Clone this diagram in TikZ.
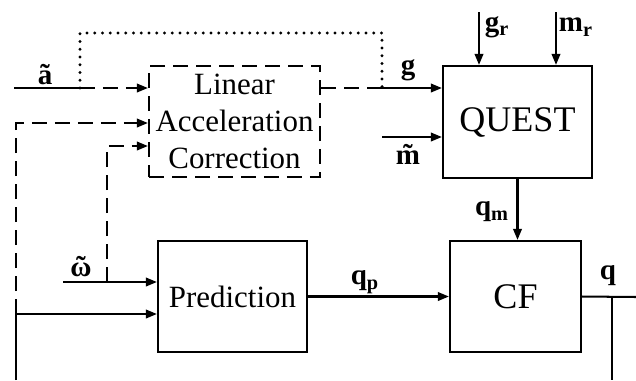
\documentclass[tikz,border=0pt]{standalone}
\usepackage{fontspec}
\setmainfont{Liberation Serif}
\usetikzlibrary{arrows.meta}
\newcommand\sbb[1]{\textsubscript{\textbf{#1}}}
\newcommand\tld[1]{{\ooalign{#1\cr\hidewidth\raisebox{0.02em}{˜}\hidewidth\cr}}}
\begin{document}
\begin{tikzpicture}[x=0.02cm,y=-0.02cm,
 line width=1.15pt,
 box/.style={draw,line width=1.25pt,minimum height=2.22cm,inner sep=0pt,align=center},
 lbl/.style={font=\fontsize{16.5}{18}\selectfont\bfseries,inner sep=0pt},
 arr/.style={-{Triangle[length=0.22cm,width=0.17cm]}},
 dsh/.style={dash pattern=on 0.3cm off 0.16cm},
 dots/.style={line width=1.9pt,line cap=round,dash pattern=on 0pt off 0.155cm},
]
\useasboundingbox (0,0) rectangle (636,380);
\node[box,dsh,minimum width=3.42cm,font=\fontsize{17.6}{21}\selectfont] (lac) at (234.5,121.5) {Linear\\Acceleration\\Correction};
\node[box,minimum width=2.98cm,minimum height=2.24cm,font=\fontsize{20.5}{22}\selectfont] (quest) at (517.5,122) {QUEST};
\node[box,minimum width=2.98cm,font=\fontsize{17.6}{21}\selectfont] (pred) at (232.5,296.5) {Prediction};
\node[box,minimum width=2.62cm,font=\fontsize{20.5}{22}\selectfont] (cf) at (515.5,296.5) {CF};
% accelerometer input
\coordinate (a0) at (14,88);
\coordinate (aJ) at (80,88);
\coordinate (d1) at (80,33);
\coordinate (d2) at (382,33);
\coordinate (gJ) at (382,88);
\draw (a0) -- (aJ);
\draw[dsh,arr] (aJ) -- (aJ -| lac.west);
\draw[dots] (aJ) -- (d1) -- (d2) -- (gJ);
\draw[dsh] (lac.east |- gJ) -- (gJ);
\draw[arr] (gJ) -- (gJ -| quest.west);
% left feedback line
\coordinate (Lb) at (16,380);
\coordinate (Lp) at (16,314);
\coordinate (Lt) at (16,123);
\draw (Lb) -- (Lp);
\draw[arr] (Lp) -- (Lp -| pred.west);
\draw[dsh,arr] (Lp) -- (Lt) -- (Lt -| lac.west);
% gyro input
\coordinate (w0) at (63,282);
\coordinate (wJ) at (107,282);
\coordinate (wt) at (107,146);
\draw[arr] (w0) -- (w0 -| pred.west);
\draw[dsh,arr] (wJ) -- (wt) -- (wt -| lac.west);
% QUEST inputs
\coordinate (gr) at (479,12);
\coordinate (mr) at (556,12);
\coordinate (m0) at (382,137);
\draw[arr] (gr) -- (gr |- quest.north);
\draw[arr] (mr) -- (mr |- quest.north);
\draw[arr] (m0) -- (m0 -| quest.west);
\draw[arr] (quest.south) -- (quest.south |- cf.north);
\draw[arr] (pred.east) -- (cf.west);
% output
\coordinate (qE) at (636,297);
\coordinate (qB) at (612,380);
\draw (cf.east) -- (qE);
\draw (qB |- cf.east) -- (qB);
% labels
\node[lbl] (la) at (45,75) {ã};
\node[lbl] (lg) at (408,70) {g};
\node[lbl] (lgr) at (497,27) {g\sbb{r}};
\node[lbl] (lmr) at (576,27) {m\sbb{r}};
\node[lbl] (lm) at (408,158) {\tld{m}};
\node[lbl] (lw) at (81,270) {\tld{ω}};
\node[lbl] (lqm) at (492,212) {q\sbb{m}};
\node[lbl] (lqp) at (365,282) {q\sbb{p}};
\node[lbl] (lq) at (608,276) {q};
\end{tikzpicture}
\end{document}
